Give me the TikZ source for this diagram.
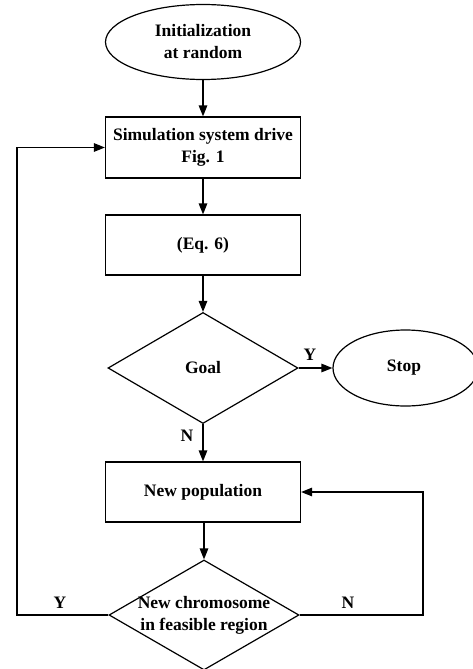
\documentclass[tikz,border=0pt]{standalone}
\usepackage{fontspec}
\setmainfont{Liberation Serif}
\usetikzlibrary{shapes.geometric,arrows.meta}
\begin{document}
\begin{tikzpicture}[x=1pt,y=-1pt,
  every node/.style={font=\fontsize{17.5}{22}\selectfont\bfseries, align=center, inner sep=0pt},
  proc/.style={draw, rectangle, line width=1.2pt, minimum width=195pt, minimum height=60pt},
  term/.style={draw, ellipse, line width=1.2pt},
  decide/.style={draw, diamond, line width=1.2pt, minimum width=190pt, minimum height=111pt},
  conn/.style={line width=1.2pt},
  arr/.style={conn, -{Triangle[length=11pt,width=8.5pt]}},
  lbl/.style={font=\fontsize{17.5}{22}\selectfont\bfseries}]
\clip (0,0) rectangle (473,669);
\fill[white] (0,0) rectangle (473,669);
\node[term, minimum width=195pt, minimum height=75pt] (init) at (203,42) {Initialization\\at random};
\node[proc, minimum height=61pt] (sim) at (203,147.5) {Simulation system drive\\Fig. 1};
\node[proc] (eq) at (203,245) {(Eq. 6)};
\node[decide] (goal) at (203,368) {};
\node (goaltxt) at (203,368) {Goal};
\node[term, minimum width=145pt, minimum height=76pt] (stop) at (405.5,368) {};
\node (stoptxt) at (404,368) {Stop};
\node[proc] (newpop) at (203,492) {New population};
\node[decide, minimum height=110pt] (chrom) at (204,615) {};
\node (chromtxt) at (204,615) {New chromosome\\in feasible region};
\coordinate (cl) at (17,615);
\coordinate (cr) at (423,615);
\draw[arr] (init.south) -- (sim.north);
\draw[arr] (sim.south) -- (eq.north);
\draw[arr] (eq.south) -- (goal.north);
\draw[arr] (goal.east) -- (stop.west);
\draw[arr] (goal.south) -- (goal.south |- newpop.north);
\draw[arr] (newpop.south -| chrom.north) -- (chrom.north);
\draw[arr] (chrom.west) -- (cl) |- (sim.west);
\draw[arr] (chrom.east) -- (cr) |- (newpop.east);
\node[lbl] (ly1) at (310,355) {Y};
\node[lbl] (ln1) at (187,436) {N};
\node[lbl] (ly2) at (60,603) {Y};
\node[lbl] (ln2) at (348,603) {N};
\end{tikzpicture}
\end{document}
